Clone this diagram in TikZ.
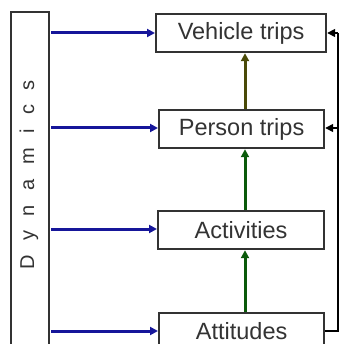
\documentclass[tikz,border=0pt]{standalone}
\usepackage{fontspec}
\setmainfont{Liberation Sans}
\usetikzlibrary{arrows.meta}
\definecolor{boxline}{HTML}{333333}
\definecolor{txt}{HTML}{333333}
\definecolor{dynblue}{HTML}{16169A}
\definecolor{olivearr}{HTML}{4A4A08}
\definecolor{greenarr}{HTML}{0A5A0A}
\begin{document}
\begin{tikzpicture}[x=1pt,y=-1pt,
  stage/.style={draw=boxline,line width=2.2pt,fill=white,minimum width=168pt,minimum height=38pt,inner sep=0pt,font=\fontsize{23.5}{23.5}\selectfont,text=txt,anchor=north west},
  dynarr/.style={draw=dynblue,line width=3pt,-{Triangle[length=8pt,width=8pt]}},
  uparr/.style={line width=3pt,-{Triangle[length=8pt,width=8pt]}},
  fb/.style={draw=black,line width=1.6pt},
  fbarr/.style={draw=black,line width=1.6pt,-{Triangle[length=8pt,width=8pt]}}]
\useasboundingbox (0,0) rectangle (340,344);
\node[draw=boxline,line width=2.2pt,fill=white,anchor=north west,minimum width=38pt,minimum height=334pt,inner sep=0pt] (dyn) at (10,11) {};
\node[rotate=90,text=txt,font=\fontsize{20}{20}\selectfont] (dyntext) at (29,175) {D\hspace{14.5pt}y\hspace{14.5pt}n\hspace{14.5pt}a\hspace{14.5pt}m\hspace{14.5pt}i\hspace{14.5pt}c\hspace{14.5pt}s};
\node[stage,minimum width=170pt] (veh) at (155,13) {Vehicle trips};
\node[stage,minimum width=165pt] (per) at (158,109) {Person trips};
\node[stage,minimum width=166pt] (act) at (157,210) {Activities};
\node[stage,minimum width=165pt,minimum height=36pt] (att) at (158,312) {Attitudes};
\coordinate (d1) at (51,33);
\coordinate (d2) at (51,128);
\coordinate (d3) at (51,229);
\coordinate (d4) at (51,331);
\draw[dynarr] (d1) -- (veh.west |- d1);
\draw[dynarr] (d2) -- (per.west |- d2);
\draw[dynarr] (d3) -- (act.west |- d3);
\draw[dynarr] (d4) -- (att.west |- d4);
\draw[uparr,draw=olivearr] (per.north -| 245,0) -- (veh.south -| 245,0);
\draw[uparr,draw=greenarr] (act.north -| 245,0) -- (per.south -| 245,0);
\draw[uparr,draw=greenarr] (att.north -| 245,0) -- (act.south -| 245,0);
\coordinate (r4) at (338,331);
\coordinate (r1) at (338,33);
\coordinate (r2) at (338,128);
\draw[fb] (att.east |- r4) -- (r4) -- (r1);
\draw[fbarr] (r1) -- (veh.east |- r1);
\draw[fbarr] (r2) -- (per.east |- r2);
\end{tikzpicture}
\end{document}
